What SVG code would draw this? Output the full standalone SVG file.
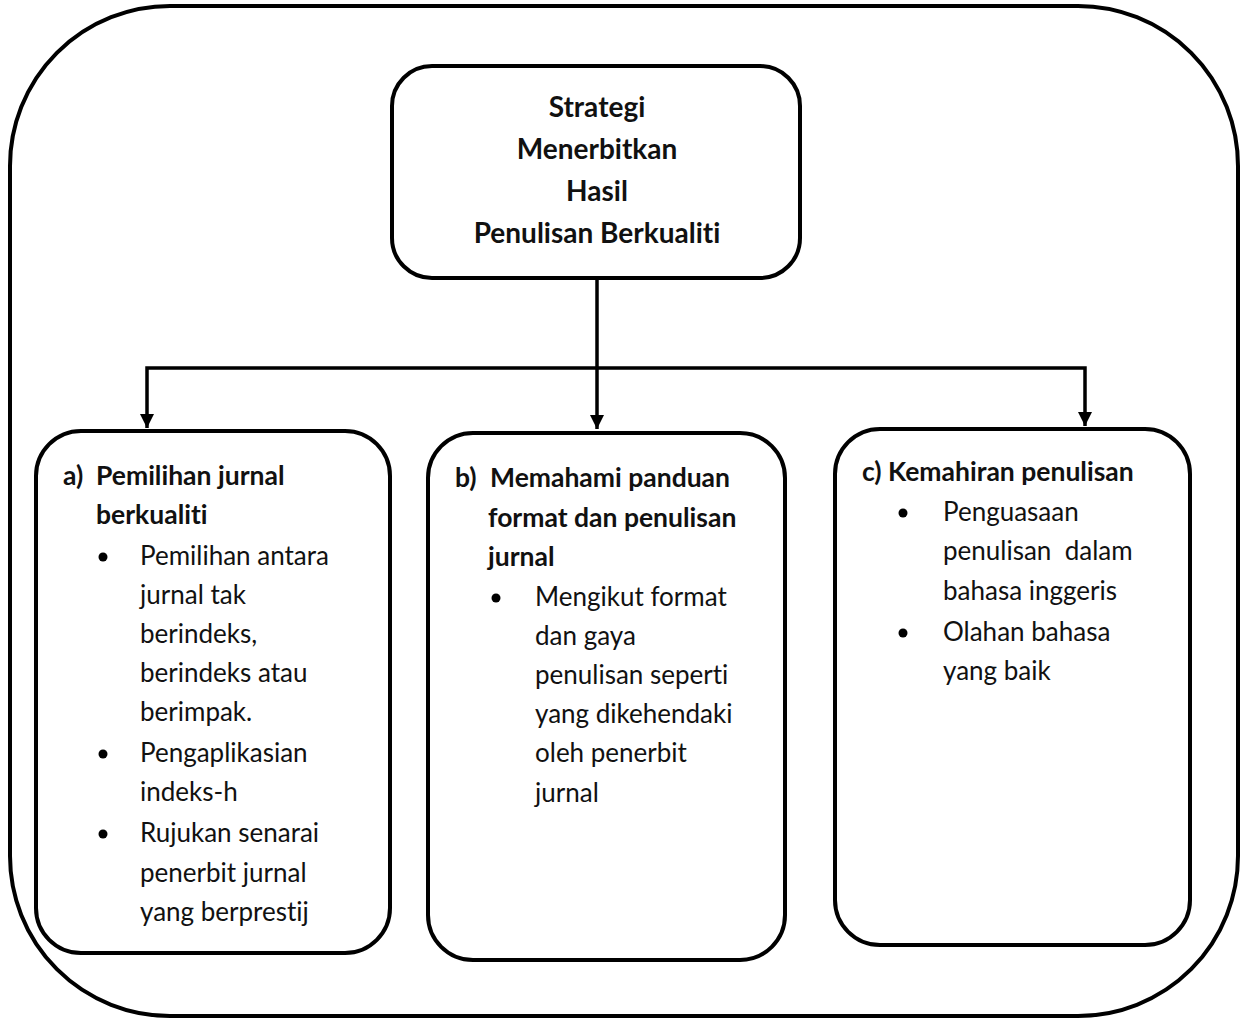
<svg xmlns="http://www.w3.org/2000/svg" width="1243" height="1020" viewBox="0 0 1243 1020">
  <defs>
    <marker id="arrow" viewBox="0 0 10 10" refX="10" refY="5" markerWidth="4" markerHeight="4" markerUnits="strokeWidth" orient="auto">
      <path d="M0,0 L10,5 L0,10 Z" fill="#000"/>
    </marker>
  </defs>
  <style>
    .frame { fill: none; stroke: #000; stroke-width: 4; }
    .box { fill: #fff; stroke: #000; stroke-width: 4; }
    .link { fill: none; stroke: #000; stroke-width: 3.5; }
    text { font-family: "Lato", "Liberation Sans", sans-serif; font-size: 26px; fill: #111; font-variant-ligatures: none; }
    .title { font-weight: bold; text-anchor: middle; font-size: 28px; }
    .head { font-weight: bold; font-size: 26.5px; }
    .dot { fill: #000; }
  </style>

  <!-- outer frame -->
  <rect class="frame" x="10" y="6" width="1228" height="1010" rx="160" ry="160"/>

  <g id="connectors">
    <path class="link" d="M597,280 V429" marker-end="url(#arrow)"/>
    <path class="link" d="M597,368 H147 V428" marker-end="url(#arrow)"/>
    <path class="link" d="M597,368 H1085 V426" marker-end="url(#arrow)"/>
  </g>

  <g id="node-root">
    <rect class="box" x="392" y="66" width="408" height="212" rx="40" ry="40"/>
    <text class="title" x="597" y="117">Strategi</text>
    <text class="title" x="597" y="159">Menerbitkan</text>
    <text class="title" x="597" y="201">Hasil</text>
    <text class="title" x="597" y="243">Penulisan Berkualiti</text>
  </g>

  <g id="node-a">
    <rect class="box" x="36" y="431" width="354" height="522" rx="45" ry="45"/>
    <text class="head" x="63" y="485">a)</text>
    <text class="head" x="96" y="485">Pemilihan jurnal</text>
    <text class="head" x="96" y="524">berkualiti</text>
    <circle class="dot" cx="103" cy="557" r="4.5"/>
    <text x="140" y="565">Pemilihan antara</text>
    <text x="140" y="604">jurnal tak</text>
    <text x="140" y="643">berindeks,</text>
    <text x="140" y="682">berindeks atau</text>
    <text x="140" y="721">berimpak.</text>
    <circle class="dot" cx="103" cy="754" r="4.5"/>
    <text x="140" y="762">Pengaplikasian</text>
    <text x="140" y="801">indeks-h</text>
    <circle class="dot" cx="103" cy="834" r="4.5"/>
    <text x="140" y="842">Rujukan senarai</text>
    <text x="140" y="882">penerbit jurnal</text>
    <text x="140" y="921">yang berprestij</text>
  </g>

  <g id="node-b">
    <rect class="box" x="428" y="433" width="357" height="527" rx="45" ry="45"/>
    <text class="head" x="455" y="487">b)</text>
    <text class="head" x="490" y="487">Memahami panduan</text>
    <text class="head" x="488" y="527">format dan penulisan</text>
    <text class="head" x="488" y="566">jurnal</text>
    <circle class="dot" cx="496" cy="598" r="4.5"/>
    <text x="535" y="606">Mengikut format</text>
    <text x="535" y="645">dan gaya</text>
    <text x="535" y="684">penulisan seperti</text>
    <text x="535" y="723">yang dikehendaki</text>
    <text x="535" y="762">oleh penerbit</text>
    <text x="535" y="802">jurnal</text>
  </g>

  <g id="node-c">
    <rect class="box" x="835" y="429" width="355" height="516" rx="45" ry="45"/>
    <text class="head" x="862" y="481">c) Kemahiran penulisan</text>
    <circle class="dot" cx="903" cy="513" r="4.5"/>
    <text x="943" y="521">Penguasaan</text>
    <text x="943" y="560" xml:space="preserve">penulisan  dalam</text>
    <text x="943" y="600">bahasa inggeris</text>
    <circle class="dot" cx="903" cy="633" r="4.5"/>
    <text x="943" y="641">Olahan bahasa</text>
    <text x="943" y="680">yang baik</text>
  </g>
</svg>
